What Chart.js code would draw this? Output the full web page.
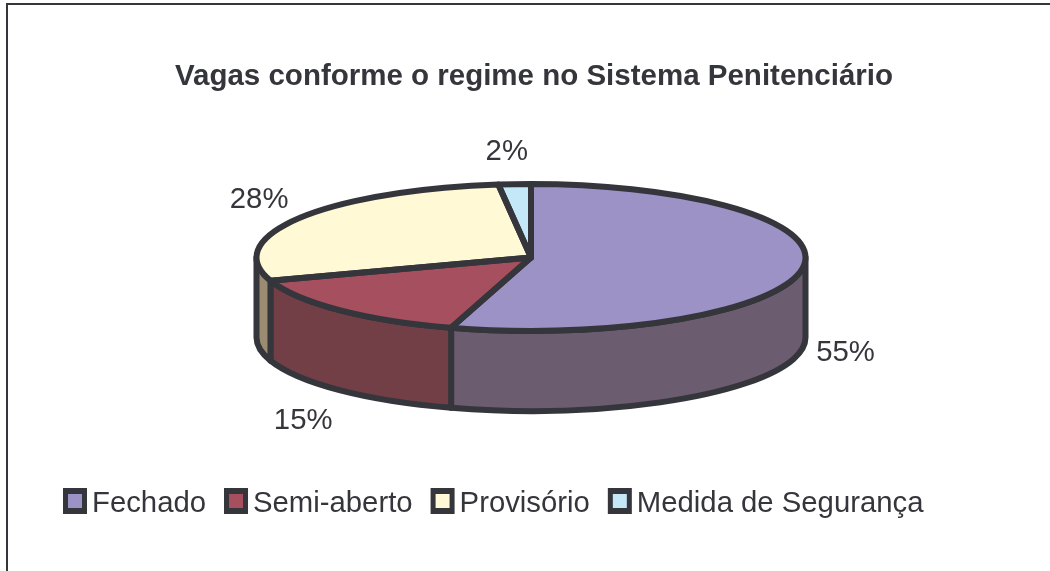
<!DOCTYPE html>
<html><head><meta charset="utf-8">
<style>html,body{margin:0;padding:0;background:#fff}canvas{display:block}</style>
<script src="https://cdn.jsdelivr.net/npm/chart.js@4"></script>
</head><body><canvas id="c" width="1050" height="571"></canvas>
<script>
const chartTitle = 'Vagas conforme o regime no Sistema Penitenciário';
const categories = ['Fechado', 'Semi-aberto', 'Provisório', 'Medida de Segurança'];
const values = [54.7, 15.2, 28.2, 1.9];
const topColors = ['#9C92C6', '#A54F5F', '#FFF9D6', '#C5E8F8'];
const sideColors = ['#6B5C70', '#723F47', '#9C8B73', '#7F98A4'];
const inkColor = '#35353C';
const labelFont = '29.3px "Liberation Sans", Arial, sans-serif';

const PIE = {cx: 531, cy: 257.5, ry: 73.5, depth: 80, line: 6};
const LABEL_R = {x: 322, y: 112};
const labelNudge = [[-4, -1], [-3, 3], [0, 2], [-5, 6]];

function arcsOf(chart) {
  return chart.getDatasetMeta(0).data.map(a =>
    a.getProps(['x', 'y', 'startAngle', 'endAngle', 'outerRadius'], true));
}
const pie3d = {
  id: 'pie3d',
  beforeDraw(chart) {
    const {ctx, width, height} = chart;
    ctx.save();
    ctx.strokeStyle = inkColor;
    ctx.lineWidth = 2;
    ctx.beginPath();
    ctx.moveTo(7, height);
    ctx.lineTo(7, 4);
    ctx.lineTo(width, 4);
    ctx.stroke();
    ctx.restore();
  },
  beforeDatasetsDraw(chart) {
    const {ctx} = chart;
    const arcs = arcsOf(chart);
    const rx = arcs[0].outerRadius;
    ctx.save();
    ctx.lineWidth = PIE.line;
    ctx.lineJoin = 'round';
    ctx.strokeStyle = inkColor;
    arcs.forEach((a, i) => {
      const from = Math.max(a.startAngle, 0);
      const to = Math.min(a.endAngle, Math.PI);
      if (to <= from) return;
      ctx.beginPath();
      ctx.ellipse(PIE.cx, PIE.cy, rx, PIE.ry, 0, from, to);
      ctx.ellipse(PIE.cx, PIE.cy + PIE.depth, rx, PIE.ry, 0, to, from, true);
      ctx.closePath();
      ctx.fillStyle = sideColors[i];
      ctx.fill();
      ctx.stroke();
    });
    ctx.restore();
    ctx.save();
    ctx.translate(PIE.cx, PIE.cy);
    ctx.scale(1, PIE.ry / rx);
    ctx.translate(-arcs[0].x, -arcs[0].y);
  },
  afterDatasetsDraw(chart) {
    const {ctx} = chart;
    ctx.restore();
    const arcs = arcsOf(chart);
    const rx = arcs[0].outerRadius;
    ctx.save();
    ctx.lineWidth = PIE.line;
    ctx.lineJoin = 'round';
    ctx.strokeStyle = inkColor;
    arcs.forEach(a => {
      ctx.beginPath();
      ctx.moveTo(PIE.cx, PIE.cy);
      ctx.ellipse(PIE.cx, PIE.cy, rx, PIE.ry, 0, a.startAngle, a.endAngle);
      ctx.closePath();
      ctx.stroke();
    });
    // value labels
    const total = values.reduce((s, v) => s + v, 0);
    ctx.font = labelFont;
    ctx.fillStyle = inkColor;
    ctx.textAlign = 'center';
    ctx.textBaseline = 'middle';
    arcs.forEach((a, i) => {
      const mid = (a.startAngle + a.endAngle) / 2;
      const s = Math.sin(mid);
      const x = PIE.cx + LABEL_R.x * Math.cos(mid) + labelNudge[i][0];
      const y = PIE.cy + LABEL_R.y * s + (s > 0 ? PIE.depth : 0) + labelNudge[i][1];
      ctx.fillText(Math.round(values[i] / total * 100) + '%', x, y);
    });
    // legend
    ctx.textAlign = 'left';
    ctx.textBaseline = 'alphabetic';
    let x = 63;
    categories.forEach((name, i) => {
      ctx.fillStyle = inkColor;
      ctx.fillRect(x, 488, 24, 26);
      ctx.fillStyle = topColors[i];
      ctx.fillRect(x + 5, 494, 14, 14);
      ctx.fillStyle = inkColor;
      ctx.fillText(name, x + 29, 512);
      x += 29 + ctx.measureText(name).width + 18;
    });
    ctx.restore();
  }
};
new Chart(document.getElementById('c'), {
  type: 'pie',
  data: {
    labels: categories,
    datasets: [{data: values, backgroundColor: topColors, borderWidth: 0, radius: 274.5, clip: false}]
  },
  options: {
    responsive: false,
    animation: false,
    layout: {padding: {left: 18}},
    plugins: {
      legend: {display: false},
      tooltip: {enabled: false},
      title: {
        display: true,
        text: chartTitle,
        color: inkColor,
        font: {family: '"Liberation Sans", Arial, sans-serif', size: 29.5, weight: 'bold', lineHeight: 1},
        padding: {top: 62, bottom: 10}
      }
    }
  },
  plugins: [pie3d]
});
</script></body></html>
